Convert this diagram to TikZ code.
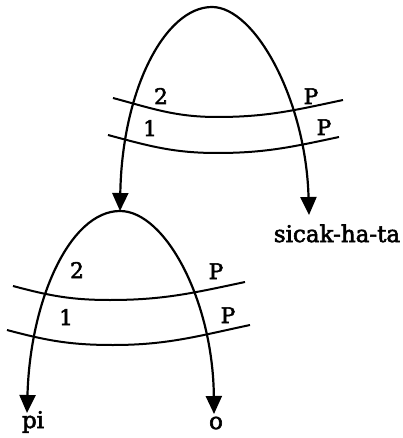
\documentclass[tikz,border=0pt]{standalone}
\usepackage{fontspec}
\setmainfont{DejaVu Serif}
\newfontfamily\lblfont[FakeBold=2.5]{DejaVu Serif}
\usetikzlibrary{arrows.meta}
\begin{document}
\begin{tikzpicture}[x=1pt,y=-1pt,
  arc/.style={line width=2.2pt,-{Triangle[length=18pt,width=16pt]}},
  band/.style={line width=2pt},
  lbl/.style={font=\lblfont\fontsize{21.5}{23}\selectfont,inner sep=0pt,anchor=base},
  word/.style={lbl,font=\lblfont\fontsize{23}{25}\selectfont}]
\useasboundingbox (0,0) rectangle (402,438);
% top tree
\coordinate (top) at (212,7);
\coordinate (bot) at (120,211);
\coordinate (sictip) at (309,215);
\node[word] (sic) at (337,242) {sicak-ha-ta};
\draw[arc] (top) .. controls (165,7) and (122,90) .. (bot);
\draw[arc] (top) .. controls (255,7) and (306,100) .. (sictip);
\draw[band] (113,98) to[out=-15,in=180] (217,117) to[out=0,in=192] (343,100);
\draw[band] (108,135) to[out=-15,in=180] (217,153) to[out=0,in=192] (339,137);
\node[lbl] (t2) at (161,104) {2};
\node[lbl] (tP2) at (311,104) {P};
\node[lbl] (t1) at (150,136) {1};
\node[lbl] (tP1) at (324,135) {P};
% bottom tree
\coordinate (pitip) at (27,413);
\coordinate (otip) at (214,414);
\node[word] (pi) at (33,428) {pi};
\node[word] (o) at (216,429) {o};
\draw[arc] (bot) .. controls (70,211) and (30,300) .. (pitip);
\draw[arc] (bot) .. controls (165,211) and (213,300) .. (otip);
\draw[band] (13,286) to[out=-15,in=180] (110,300) to[out=0,in=192] (245,282);
\draw[band] (7,330) to[out=-15,in=180] (113,345) to[out=0,in=192] (250,325);
\node[lbl] (b2) at (77,278) {2};
\node[lbl] (bP2) at (216,279) {P};
\node[lbl] (b1) at (66,325) {1};
\node[lbl] (bP1) at (228,323) {P};
\end{tikzpicture}
\end{document}
